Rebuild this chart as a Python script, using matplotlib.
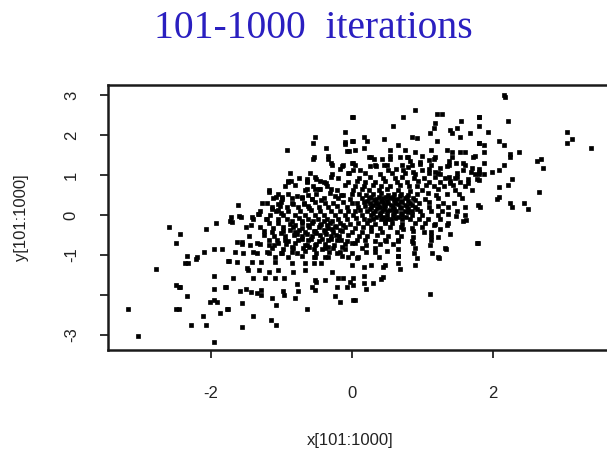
import numpy as np
import matplotlib
matplotlib.use('Agg')
import matplotlib.pyplot as plt

# points, grouped by region (data units)
pts_right = [(2.16, 3.00), (2.18, 2.96), (1.81, 2.46), (1.81, 2.23), (2.21, 2.35), (1.93, 2.07),
             (3.06, 2.07), (3.13, 1.91), (3.06, 1.79), (3.40, 1.68), (1.81, 1.79), (1.87, 1.74),
             (2.09, 1.85), (2.16, 1.74), (1.87, 1.58), (2.25, 1.53), (2.25, 1.44), (2.37, 1.58),
             (2.63, 1.36), (2.69, 1.41), (2.72, 1.18), (1.87, 1.31), (1.81, 1.14), (2.16, 1.24),
             (2.09, 1.13), (1.99, 1.08), (1.87, 1.02), (1.81, 1.02), (1.81, 0.88), (2.28, 0.91),
             (2.21, 0.74), (2.09, 0.69), (2.65, 0.58), (2.09, 0.46), (2.06, 0.41), (1.79, 0.25),
             (1.82, 0.20), (2.25, 0.31), (2.28, 0.19), (2.44, 0.29), (2.50, 0.14), (1.79, -0.69)]

pts_left = [(-2.59, -0.31), (-2.44, -0.48), (-2.49, -0.69), (-2.06, -0.36), (-1.93, -0.19),
            (-1.73, -0.14), (-2.33, -1.03), (-2.19, -1.04), (-2.21, -1.09), (-2.36, -1.19),
            (-2.32, -1.19), (-2.09, -0.92), (-1.96, -0.86), (-1.84, -0.86), (-1.75, -1.14),
            (-2.78, -1.36), (-1.96, -1.53), (-2.49, -1.76), (-2.45, -1.81), (-2.43, -1.81),
            (-2.33, -2.03), (-1.96, -1.86), (-1.80, -1.81), (-2.01, -2.18), (-1.96, -2.13),
            (-1.91, -2.18), (-3.18, -2.35), (-2.49, -2.35), (-2.45, -2.35), (-1.77, -2.35),
            (-1.87, -2.46), (-2.11, -2.52), (-2.28, -2.74), (-2.06, -2.74), (-3.03, -3.02),
            (-1.96, -3.18)]

pts_upper_mid = [(0.01, 2.46), (-0.09, 2.07), (-0.52, 1.96), (-0.55, 1.79), (-0.10, 1.82),
                 (-0.09, 1.77), (0.01, 1.85), (-0.36, 1.68), (-0.92, 1.63), (-0.07, 1.59),
                 (-0.04, 1.59), (-0.55, 1.41), (-0.33, 1.39), (-0.29, 1.29), (-0.14, 1.23),
                 (-0.16, 1.14), (0.00, 1.29), (-0.04, 1.06), (-0.30, 0.96), (-0.64, 0.91),
                 (-0.64, 0.84), (-0.50, 0.89), (-0.90, 0.86), (-0.86, 0.86), (-0.40, 0.83),
                 (-0.37, 0.79), (-0.64, 0.64), (-0.52, 0.64), (-0.45, 0.64), (-0.29, 0.66),
                 (-1.17, 0.58), (-1.08, 0.46), (-0.99, 0.46), (-0.77, 0.48), (-0.70, 0.46),
                 (-0.57, 0.41), (-0.43, 0.38), (-0.24, 0.48), (-0.13, 0.51), (-1.27, 0.29),
                 (-1.62, 0.24), (-1.05, 0.28), (-0.83, 0.28), (-0.68, 0.28), (-1.13, 0.16),
                 (-1.04, 0.13), (-1.32, 0.03), (-1.57, -0.04), (-1.71, -0.04), (-1.42, -0.04)]

pts_upper_right = [(0.90, 2.63), (0.73, 2.46), (0.02, 2.46), (1.21, 2.52), (1.28, 2.52), (1.80, 2.46),
                   (0.58, 2.23), (1.18, 2.29), (1.16, 2.18), (1.55, 2.35), (1.50, 2.18), (1.39, 2.13),
                   (1.42, 2.06), (1.11, 2.04), (1.68, 2.04), (1.54, 1.96), (1.80, 1.81), (0.86, 1.96),
                   (0.92, 1.92), (0.46, 1.91), (0.17, 1.96), (0.02, 1.85), (0.21, 1.85), (1.21, 1.85),
                   (0.66, 1.74), (0.17, 1.68), (0.05, 1.63), (0.55, 1.63), (0.76, 1.63), (0.90, 1.58),
                   (1.13, 1.63), (1.35, 1.63), (1.42, 1.58), (1.53, 1.58), (1.61, 1.58), (1.75, 1.48),
                   (0.24, 1.46), (0.31, 1.41), (0.43, 1.41), (0.55, 1.41), (0.68, 1.46), (0.78, 1.46),
                   (0.83, 1.35), (0.97, 1.33), (1.10, 1.38), (1.16, 1.41), (1.38, 1.35), (1.38, 1.24),
                   (1.48, 1.29), (1.58, 1.29), (1.58, 1.13), (1.70, 1.18), (1.69, 1.08), (1.80, 1.08),
                   (1.77, 0.91), (1.65, 0.91), (1.65, 0.79), (1.49, 0.96), (1.38, 0.96), (1.39, 0.79),
                   (0.02, 1.29), (0.02, 1.13), (0.12, 1.13), (0.26, 1.23), (0.35, 1.23), (0.46, 1.24),
                   (0.52, 1.13), (0.63, 1.16), (0.73, 1.13), (0.80, 1.21), (0.87, 1.08), (0.99, 1.13),
                   (1.09, 1.16), (1.18, 1.08), (1.25, 1.18), (1.25, 1.02)]

pts_lower = [(-1.60, -0.03), (-1.70, -0.17), (-1.33, 0.03), (-1.43, -0.25), (-1.63, -0.67),
             (-1.55, -0.67), (-1.66, -0.92), (-1.74, -1.14), (-1.63, -1.17), (-1.54, -0.96),
             (-1.68, -1.58), (-1.49, -1.33), (-1.79, -1.81), (-1.58, -1.90), (-1.50, -1.86),
             (-1.43, -1.93), (-1.35, -1.96), (-1.29, -1.88), (-1.28, -2.00), (-1.13, -2.07),
             (-0.98, -1.90), (-0.96, -2.01), (-0.80, -2.07), (-0.76, -1.90), (-0.56, -1.81),
             (-0.52, -1.88), (-0.21, -1.81), (-0.07, -1.81), (-0.24, -2.03), (-0.17, -2.17),
             (0.02, -2.13), (-1.55, -2.19), (-1.76, -2.36), (-1.08, -2.25), (-0.64, -2.36),
             (-1.40, -2.53), (-1.14, -2.63), (-1.08, -2.75), (-1.55, -2.79), (-0.96, -1.58),
             (-0.78, -1.73), (-0.52, -1.63), (-0.38, -1.63), (-0.19, -1.58), (-0.02, -1.67),
             (-1.09, -1.58), (-1.23, -1.58), (-1.40, -1.58), (-1.47, -1.38), (-1.32, -1.38),
             (-1.18, -1.42), (-1.04, -1.38), (-0.83, -1.42), (-0.66, -1.38), (-0.50, -1.67),
             (-0.43, -1.21), (-0.28, -1.42), (-0.12, -1.58), (-0.66, -1.21), (-0.54, -1.21),
             (-0.85, -1.21), (-1.09, -1.17), (-1.28, -1.17), (-1.42, -1.17), (-1.18, -0.96),
             (-1.35, -0.96), (-0.99, -0.96), (-0.78, -0.96), (-0.54, -1.04), (-0.38, -1.04),
             (-0.21, -0.96), (-0.05, -1.04), (-1.35, -0.71), (-1.18, -0.75), (-1.04, -0.71),
             (-1.44, -0.75), (-0.85, -0.79), (-0.66, -0.75), (-0.52, -0.75), (-0.33, -0.79),
             (-0.14, -0.79), (0.00, -0.71),
             (0.05, -2.13), (1.11, -1.98), (0.20, -1.86), (0.30, -1.69), (0.17, -1.69),
             (0.41, -1.61), (0.44, -1.56), (0.17, -1.53), (0.02, -1.58), (0.02, -1.75),
             (0.17, -1.31), (0.27, -1.25), (0.44, -1.31), (0.47, -1.25), (0.68, -1.36),
             (0.65, -1.19), (0.65, -1.03), (0.90, -1.25), (0.92, -1.08), (0.88, -0.96),
             (1.14, -0.96), (1.24, -1.08), (1.34, -0.86), (1.11, -0.75), (0.87, -0.71),
             (1.77, -0.69), (0.65, -0.64), (0.33, -0.92), (0.07, -1.08), (0.00, -1.25),
             (0.49, -0.64), (1.25, -0.36), (1.39, -0.48), (1.35, -0.25), (1.37, 0.03),
             (1.48, -0.03), (1.58, -0.14), (1.62, -0.12), (1.16, -0.25), (1.13, -0.53),
             (1.02, -0.42), (0.73, -0.36), (0.87, -0.54), (1.23, -0.54)]

# dense core, estimated row by row
pts_core_a = [(-0.54, 1.46), (-0.33, 1.47), (0.28, 1.45), (0.54, 1.47), (0.80, 1.45), (0.99, 1.47),
              (1.18, 1.46), (1.42, 1.45), (1.72, 1.46),
              (-0.28, 1.25), (-0.12, 1.26), (0.05, 1.24), (0.33, 1.25), (0.50, 1.26), (0.71, 1.24),
              (0.85, 1.25), (0.97, 1.27), (1.13, 1.25), (1.35, 1.23), (1.61, 1.25),
              (-0.88, 1.04), (-0.59, 1.05), (-0.28, 1.03), (-0.05, 1.04), (0.19, 1.05), (0.40, 1.03),
              (0.57, 1.04), (0.76, 1.05), (0.90, 1.03), (1.09, 1.04), (1.23, 1.06), (1.49, 1.04),
              (1.75, 1.03),
              (-0.90, 0.83), (-0.64, 0.82), (-0.45, 0.84), (-0.05, 0.83), (0.07, 0.85), (0.19, 0.82),
              (0.33, 0.83), (0.47, 0.84), (0.64, 0.82), (0.78, 0.83), (0.94, 0.85), (1.09, 0.83),
              (1.25, 0.82), (1.39, 0.84), (1.54, 0.83),
              (-1.17, 0.63), (-0.66, 0.62), (-0.47, 0.64), (-0.21, 0.63), (0.02, 0.62), (0.14, 0.64),
              (0.24, 0.63), (0.38, 0.62), (0.50, 0.64), (0.66, 0.63), (0.83, 0.61), (0.99, 0.63),
              (1.23, 0.64), (1.47, 0.62), (1.70, 0.63),
              (-1.11, 0.42), (-0.99, 0.41), (-0.85, 0.43), (-0.71, 0.42), (-0.57, 0.41), (-0.40, 0.43),
              (-0.19, 0.42), (-0.02, 0.41), (0.14, 0.43), (0.24, 0.42), (0.35, 0.41), (0.45, 0.43),
              (0.54, 0.42), (0.64, 0.41), (0.76, 0.42), (0.87, 0.43), (1.04, 0.41), (1.23, 0.42),
              (1.56, 0.43),
              (-1.13, 0.21), (-1.02, 0.22), (-0.92, 0.20), (-0.76, 0.21), (-0.62, 0.22), (-0.47, 0.20),
              (-0.33, 0.21), (-0.21, 0.22), (-0.07, 0.20), (0.09, 0.21), (0.19, 0.22), (0.28, 0.20),
              (0.40, 0.21), (0.47, 0.22), (0.59, 0.20), (0.68, 0.21), (0.78, 0.22), (0.90, 0.20),
              (1.09, 0.21), (1.23, 0.22), (1.37, 0.20), (1.61, 0.21),
              (-1.16, 0.00), (-0.97, 0.01), (-0.80, -0.01), (-0.66, 0.00), (-0.52, 0.01), (-0.40, -0.01),
              (-0.24, 0.00), (-0.09, 0.01), (0.02, -0.01), (0.14, 0.00), (0.28, 0.01), (0.40, -0.01),
              (0.50, 0.00), (0.59, 0.01), (0.71, -0.01), (0.85, 0.00), (0.99, 0.01), (1.23, -0.01),
              (1.61, 0.00),
              (-1.18, -0.21), (-1.04, -0.20), (-0.88, -0.22), (-0.71, -0.21), (-0.57, -0.20),
              (-0.43, -0.22), (-0.31, -0.21), (-0.17, -0.20), (-0.02, -0.22), (0.09, -0.21),
              (0.21, -0.20), (0.33, -0.22), (0.47, -0.21), (0.57, -0.20), (0.71, -0.22), (0.90, -0.21),
              (1.04, -0.20), (1.18, -0.22), (1.37, -0.21),
              (-1.13, -0.42), (-0.97, -0.41), (-0.80, -0.43), (-0.66, -0.42), (-0.52, -0.41),
              (-0.38, -0.43), (-0.26, -0.42), (-0.14, -0.41), (0.00, -0.43), (0.14, -0.42),
              (0.28, -0.41), (0.43, -0.43), (0.64, -0.42), (0.87, -0.41), (1.13, -0.43),
              (-1.18, -0.63), (-1.06, -0.62), (-0.90, -0.64), (-0.76, -0.63), (-0.62, -0.62),
              (-0.47, -0.64), (-0.33, -0.63), (-0.21, -0.62), (-0.07, -0.64), (0.07, -0.63),
              (0.19, -0.62), (0.33, -0.64), (0.47, -0.63), (0.66, -0.62), (0.85, -0.64), (1.13, -0.63),
              (-1.13, -0.83), (-0.97, -0.84), (-0.83, -0.82), (-0.69, -0.83), (-0.54, -0.84),
              (-0.38, -0.82), (-0.26, -0.83), (-0.09, -0.84), (0.14, -0.82), (0.33, -0.83),
              (0.66, -0.84), (0.90, -0.82), (1.32, -0.83),
              (-1.09, -1.04), (-0.90, -1.05), (-0.71, -1.03), (-0.52, -1.04), (-0.33, -1.05),
              (-0.14, -1.03), (0.09, -1.04), (0.38, -1.05), (0.66, -1.03), (1.23, -1.04)]

pts_core_b = [(-0.75, 0.93), (-0.52, 0.94), (-0.20, 0.92), (0.10, 0.93), (0.26, 0.95), (0.44, 0.92),
              (0.61, 0.93), (0.71, 0.94), (0.88, 0.92), (1.02, 0.93), (1.18, 0.95), (1.33, 0.92),
              (1.46, 0.93),
              (-0.95, 0.73), (-0.80, 0.74), (-0.55, 0.72), (-0.35, 0.73), (-0.10, 0.75), (0.05, 0.72),
              (0.17, 0.73), (0.30, 0.74), (0.42, 0.72), (0.55, 0.73), (0.69, 0.75), (0.81, 0.72),
              (0.92, 0.73), (1.06, 0.74), (1.17, 0.72), (1.31, 0.73), (1.44, 0.75), (1.60, 0.72),
              (-1.05, 0.52), (-0.90, 0.53), (-0.62, 0.51), (-0.50, 0.52), (-0.31, 0.54), (-0.15, 0.51),
              (0.00, 0.52), (0.10, 0.53), (0.20, 0.51), (0.30, 0.52), (0.41, 0.54), (0.52, 0.51),
              (0.60, 0.52), (0.70, 0.53), (0.80, 0.51), (0.93, 0.52), (1.08, 0.54), (1.20, 0.51),
              (1.35, 0.52), (1.52, 0.53),
              (-1.20, 0.31), (-1.00, 0.32), (-0.85, 0.30), (-0.67, 0.31), (-0.52, 0.33), (-0.38, 0.30),
              (-0.27, 0.31), (-0.12, 0.32), (0.00, 0.30), (0.08, 0.31), (0.17, 0.33), (0.26, 0.30),
              (0.35, 0.31), (0.44, 0.32), (0.52, 0.30), (0.62, 0.31), (0.72, 0.33), (0.83, 0.30),
              (0.95, 0.31), (1.10, 0.32), (1.30, 0.30), (1.45, 0.31),
              (-1.30, 0.10), (-1.08, 0.11), (-0.90, 0.09), (-0.73, 0.10), (-0.58, 0.12), (-0.45, 0.09),
              (-0.30, 0.10), (-0.16, 0.11), (-0.05, 0.09), (0.05, 0.10), (0.12, 0.12), (0.22, 0.09),
              (0.33, 0.10), (0.43, 0.11), (0.50, 0.09), (0.55, 0.12), (0.63, 0.10), (0.75, 0.09),
              (0.86, 0.11), (0.97, 0.10), (1.12, 0.09), (1.28, 0.11), (1.50, 0.10),
              (-1.40, -0.10), (-1.22, -0.09), (-1.05, -0.11), (-0.92, -0.10), (-0.75, -0.08),
              (-0.62, -0.11), (-0.48, -0.10), (-0.35, -0.09), (-0.20, -0.11), (-0.06, -0.10),
              (0.06, -0.08), (0.18, -0.11), (0.30, -0.10), (0.42, -0.09), (0.50, -0.11), (0.56, -0.10),
              (0.62, -0.08), (0.72, -0.11), (0.82, -0.10), (0.95, -0.09), (1.08, -0.11), (1.25, -0.10),
              (-1.50, -0.31), (-1.30, -0.30), (-1.12, -0.32), (-0.98, -0.31), (-0.83, -0.29),
              (-0.70, -0.32), (-0.60, -0.31), (-0.47, -0.30), (-0.33, -0.32), (-0.22, -0.31),
              (-0.10, -0.29), (0.04, -0.32), (0.16, -0.31), (0.27, -0.30), (0.40, -0.32), (0.55, -0.31),
              (0.70, -0.29), (0.85, -0.32), (1.00, -0.31),
              (-1.45, -0.52), (-1.25, -0.51), (-1.10, -0.53), (-0.95, -0.52), (-0.82, -0.50),
              (-0.70, -0.53), (-0.57, -0.52), (-0.45, -0.51), (-0.30, -0.53), (-0.18, -0.52),
              (-0.05, -0.50), (0.10, -0.53), (0.22, -0.52), (0.36, -0.51), (0.52, -0.53), (0.70, -0.52),
              (-1.55, -0.73), (-1.30, -0.72), (-1.10, -0.74), (-0.93, -0.73), (-0.80, -0.71),
              (-0.63, -0.74), (-0.50, -0.73), (-0.38, -0.72), (-0.25, -0.74), (-0.10, -0.73),
              (0.04, -0.71), (0.20, -0.74), (0.40, -0.73), (0.58, -0.72),
              (-1.40, -0.93), (-1.20, -0.92), (-1.00, -0.94), (-0.85, -0.93), (-0.66, -0.91),
              (-0.50, -0.94), (-0.32, -0.93), (-0.17, -0.92), (0.00, -0.94), (0.20, -0.93), (0.50, -0.91)]

pts_core_c = [(0.28, 0.45), (0.38, 0.46), (0.48, 0.44), (0.58, 0.45), (0.68, 0.47), (0.78, 0.45),
              (0.22, 0.36), (0.31, 0.37), (0.41, 0.35), (0.50, 0.36), (0.60, 0.38), (0.70, 0.36),
              (0.80, 0.35), (0.90, 0.37),
              (0.30, 0.26), (0.37, 0.27), (0.46, 0.25), (0.56, 0.26), (0.66, 0.28), (0.76, 0.26),
              (0.86, 0.25),
              (0.26, 0.16), (0.36, 0.17), (0.46, 0.15), (0.60, 0.16), (0.70, 0.18), (0.80, 0.16),
              (0.92, 0.15),
              (0.30, 0.05), (0.40, 0.06), (0.60, 0.04), (0.70, 0.05), (0.80, 0.07),
              (0.35, -0.05), (0.45, -0.04), (0.66, -0.06), (0.77, -0.05),
              (-0.70, -0.15), (-0.55, -0.14), (-0.40, -0.16), (-0.28, -0.15), (0.25, -0.13), (0.47, -0.15),
              (-0.80, -0.25), (-0.62, -0.26), (-0.45, -0.24), (-0.35, -0.25), (-0.24, -0.27), (-0.12, -0.25),
              (-0.88, -0.38), (-0.75, -0.37), (-0.54, -0.39), (-0.40, -0.38), (-0.28, -0.36), (-0.16, -0.38),
              (-0.78, -0.47), (-0.64, -0.48), (-0.50, -0.46), (-0.36, -0.47), (-0.22, -0.49),
              (-0.70, -0.60), (-0.58, -0.61), (-0.42, -0.59), (-0.30, -0.60),
              (-1.00, -0.45), (-1.25, -0.40), (-0.95, -0.62), (-0.60, -0.80), (-0.42, -0.86),
              (-1.00, 0.05), (-0.85, -0.15), (-1.20, -0.10), (-0.60, 0.18), (-0.15, -0.62)]

x_ticks = [-2, 0, 2]
y_ticks = [3, 2, 1, 0, -1, -2, -3]
y_tick_labels = ['3', '2', '1', '0', '-1', '', '-3']

all_pts = pts_right + pts_left + pts_upper_mid + pts_upper_right + pts_lower + pts_core_a + pts_core_b + pts_core_c
xs = np.array([p[0] for p in all_pts])
ys = np.array([p[1] for p in all_pts])

fig = plt.figure(figsize=(6.07, 4.57), dpi=100)
ax = fig.add_axes([108/607, 107/457, 532/607, 265/457])
ax.plot(xs, ys, linestyle='none', marker='s', markersize=3.3, color='black',
        markeredgecolor='black', markeredgewidth=0.5)
ax.set_xlim(-3.457, 4.089)
ax.set_ylim(-3.375, 3.25)

for s in ax.spines.values():
    s.set_linewidth(1.8)
    s.set_color('#1a1a1a')

ax.set_xticks(x_ticks)
ax.set_xticklabels([str(t) for t in x_ticks])
ax.set_yticks(y_ticks)
ax.set_yticklabels(y_tick_labels, rotation=90, va='center')
ax.tick_params(axis='both', direction='out', length=6, width=1.3, color='#222222',
               labelsize=12, labelcolor='#222222')
ax.tick_params(axis='x', pad=20)
ax.tick_params(axis='y', pad=15)
for lab in ax.get_xticklabels() + ax.get_yticklabels():
    lab.set_family('Liberation Sans')

fig.text(350/607, 1 - 440/457, 'x[101:1000]', ha='center', va='center',
         fontsize=12, family='Liberation Sans', color='#222222')
fig.text(22/607, 1 - 218/457, 'y[101:1000]', ha='center', va='center', rotation=90,
         fontsize=12, family='Liberation Sans', color='#222222')
fig.text(313/607, 1 - 29/457, '101-1000  iterations', ha='center', va='center',
         fontsize=28.5, family='Liberation Serif', color='#2a1fc0')

fig.savefig('out.png', dpi=100)
